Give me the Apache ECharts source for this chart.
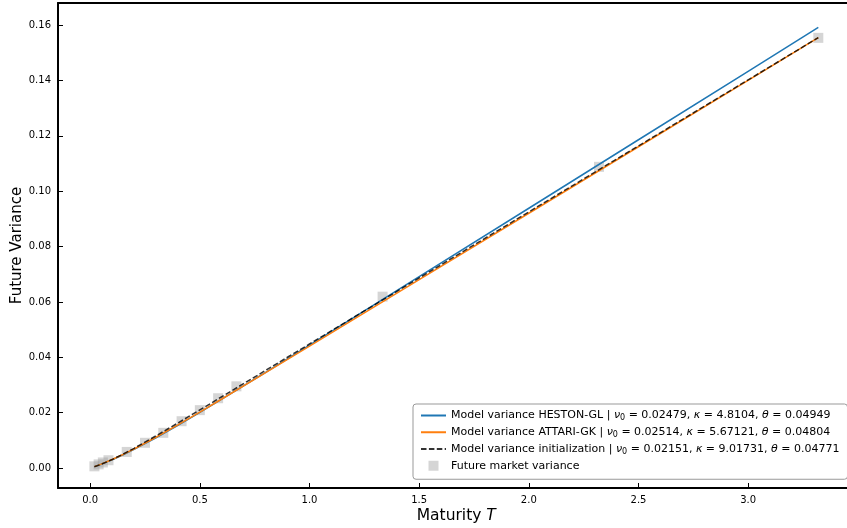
<!DOCTYPE html>
<html>
<head>
<meta charset="utf-8">
<script src="https://cdn.jsdelivr.net/npm/echarts@6/dist/echarts.min.js"></script>
<style>
html,body{margin:0;padding:0;background:#fff;}
#chart{width:847px;height:528px;}
</style>
</head>
<body>
<div id="chart"></div>
<script>
// Maturity grid for the model curves
const T_grid = [0.0192, 0.05, 0.1, 0.15, 0.2, 0.3, 0.4, 0.5, 0.6, 0.8, 1.0, 1.25, 1.5, 2.0, 2.5, 3.0, 3.32];
const hestonGL = [0.000497, 0.001377, 0.002988, 0.004784, 0.006725, 0.010925, 0.015411, 0.020074, 0.024846, 0.034567, 0.044397, 0.05674, 0.069104, 0.093845, 0.11859, 0.143335, 0.159172];
const attariGK = [0.000505, 0.001405, 0.003056, 0.004893, 0.006869, 0.011111, 0.015596, 0.020219, 0.02492, 0.034437, 0.044016, 0.056015, 0.068023, 0.092042, 0.116062, 0.140082, 0.155455];
const initVar = [0.000454, 0.001331, 0.003045, 0.005003, 0.007115, 0.011602, 0.016257, 0.020981, 0.025733, 0.035265, 0.044805, 0.056732, 0.06866, 0.092515, 0.11637, 0.140225, 0.155492];
// Market observations
const T_mkt = [0.0192, 0.0385, 0.0577, 0.0833, 0.1667, 0.25, 0.3333, 0.4167, 0.5, 0.5833, 0.6667, 1.3333, 2.32, 3.32];
const V_mkt = [0.0006, 0.0013, 0.0020, 0.0028, 0.0058, 0.0091, 0.0127, 0.0169, 0.0209, 0.0252, 0.0295, 0.0619, 0.1088, 0.1554];
// Tick labels
const xTicks = [0.0, 0.5, 1.0, 1.5, 2.0, 2.5, 3.0];
const yTicks = [0.00, 0.02, 0.04, 0.06, 0.08, 0.10, 0.12, 0.14, 0.16];

const zip = (a, b) => a.map((v, i) => [v, b[i]]);
const FONT = 'DejaVu Sans';
const LF = 11;

const legendText = {
  heston: '{t|Model variance HESTON-GL | }{i|ν}{s|0}{t| = 0.02479, }{i|κ}{t| = 4.8104, }{i|θ}{t| = 0.04949}',
  attari: '{t|Model variance ATTARI-GK | }{i|ν}{s|0}{t| = 0.02514, }{i|κ}{t| = 5.67121, }{i|θ}{t| = 0.04804}',
  init: '{t|Model variance initialization | }{i|ν}{s|0}{t| = 0.02151, }{i|κ}{t| = 9.01731, }{i|θ}{t| = 0.04771}',
  market: '{t|Future market variance}'
};

const chart = echarts.init(document.getElementById('chart'), null, {renderer: 'canvas'});
chart.setOption({
  animation: false,
  backgroundColor: '#fff',
  grid: {left: 58, right: -7.5, top: 3, bottom: 40, containLabel: false, outerBoundsMode: 'none'},
  xAxis: [{
    type: 'value', min: -0.1468, max: 3.485,
    axisLine: {onZero: false, lineStyle: {color: '#000', width: 2}},
    axisTick: {inside: true, length: 5, customValues: xTicks, lineStyle: {color: '#000', width: 1}},
    axisLabel: {customValues: xTicks, formatter: v => v.toFixed(1), fontSize: 10, fontFamily: FONT, color: '#000', margin: 7},
    splitLine: {show: false},
    name: 'Maturity {it|T}', nameLocation: 'middle', nameGap: 20, nameMoveOverlap: false,
    nameTextStyle: {fontSize: 15.5, fontFamily: FONT, color: '#000', rich: {it: {fontStyle: 'italic', fontSize: 15.5, fontFamily: FONT, color: '#000'}}}
  }, {
    type: 'value', position: 'top', min: -0.1468, max: 3.485,
    axisLine: {onZero: false, lineStyle: {color: '#000', width: 2}},
    axisTick: {show: false}, axisLabel: {show: false}, splitLine: {show: false}
  }],
  yAxis: {
    type: 'value', min: -0.00723, max: 0.168,
    axisLine: {onZero: false, lineStyle: {color: '#000', width: 2}},
    axisTick: {inside: true, length: 5, customValues: yTicks, lineStyle: {color: '#000', width: 1}},
    axisLabel: {customValues: yTicks, formatter: v => v.toFixed(2), fontSize: 10, fontFamily: FONT, color: '#000', margin: 7},
    splitLine: {show: false},
    name: 'Future Variance', nameLocation: 'middle', nameGap: 33.5, nameMoveOverlap: false,
    nameTextStyle: {fontSize: 15, fontFamily: FONT, color: '#000'}
  },
  legend: {
    orient: 'vertical', left: 413, top: 404,
    itemWidth: 25, itemHeight: 10, itemGap: 4.5,
    padding: [6, 8, 8, 7],
    backgroundColor: 'rgba(255,255,255,0.85)',
    borderColor: '#999', borderWidth: 1, borderRadius: 3,
    symbolKeepAspect: true,
    data: [
      {name: 'heston', itemStyle: {opacity: 0}},
      {name: 'attari', itemStyle: {opacity: 0}},
      {name: 'init', itemStyle: {opacity: 0}},
      {name: 'market', icon: 'path://M0,0L10,0L10,10L0,10Z'}
    ],
    formatter: n => legendText[n],
    textStyle: {
      fontSize: LF, fontFamily: FONT, color: '#000',
      rich: {
        t: {fontSize: LF, fontFamily: FONT, color: '#000', lineHeight: 13.5},
        i: {fontSize: LF, fontFamily: FONT, fontStyle: 'italic', color: '#000', lineHeight: 13.5},
        s: {fontSize: 8, fontFamily: FONT, fontStyle: 'normal', color: '#000', lineHeight: 4, verticalAlign: 'bottom'}
      }
    }
  },
  series: [
    {
      name: 'market', type: 'scatter', symbol: 'rect', symbolSize: 10, z: 1,
      itemStyle: {color: 'rgba(150,150,150,0.5)'},
      data: zip(T_mkt, V_mkt)
    },
    {
      name: 'heston', type: 'line', symbol: 'none', z: 2,
      lineStyle: {color: '#1f77b4', width: 1.5}, itemStyle: {color: '#1f77b4'},
      data: zip(T_grid, hestonGL)
    },
    {
      name: 'attari', type: 'line', symbol: 'none', z: 3,
      lineStyle: {color: '#ff7f0e', width: 1.5}, itemStyle: {color: '#ff7f0e'},
      data: zip(T_grid, attariGK)
    },
    {
      name: 'init', type: 'line', symbol: 'none', z: 4,
      lineStyle: {color: 'rgba(0,0,0,0.8)', width: 1.5, type: [5.5, 2.4]}, itemStyle: {color: 'rgba(0,0,0,0.8)'},
      data: zip(T_grid, initVar)
    }
  ]
});
</script>
</body>
</html>
